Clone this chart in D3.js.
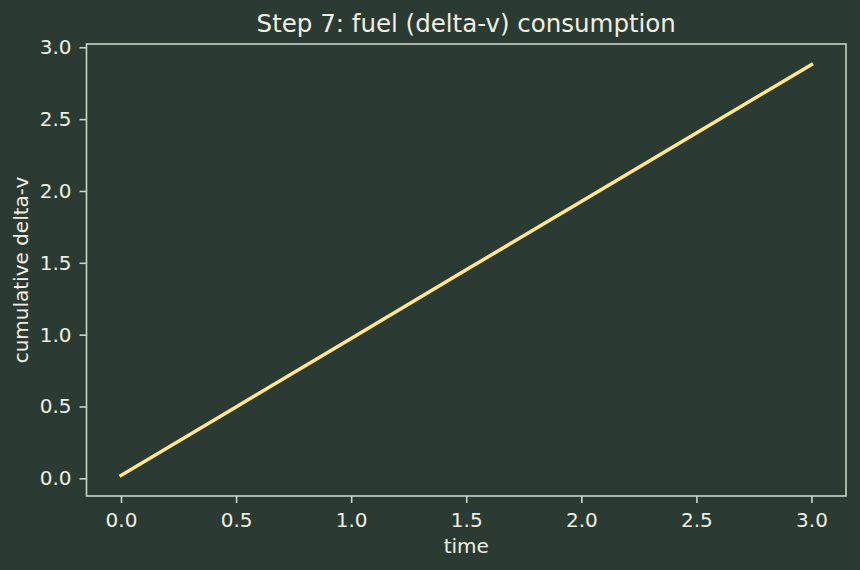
<!DOCTYPE html>
<html>
<head>
<meta charset="utf-8">
<script src="https://cdn.jsdelivr.net/npm/d3@7"></script>
<style>
  body { margin: 0; background: #2b3b34; }
  text { font-family: "DejaVu Sans", sans-serif; fill: #f0eee0; }
</style>
</head>
<body>
<div id="chart"></div>
<script>
// step 7 data: cumulative delta-v over time
var times = [0.0, 0.5, 1.0, 1.5, 2.0, 2.5, 3.0];
var deltaV = [0.02, 0.497, 0.974, 1.451, 1.927, 2.404, 2.88];
var xTicks = [0.0, 0.5, 1.0, 1.5, 2.0, 2.5, 3.0];
var yTicks = [0.0, 0.5, 1.0, 1.5, 2.0, 2.5, 3.0];

var w = 860, h = 570;
var margins = {top: 44, bottom: 74, left: 86.5, right: 14};
var bg = "#2b3b34", fg = "#f0eee0", spine = "#c8d6c8", lineCol = "#ffe58f";

var data = times.map(function(t, i) { return {t: t, v: deltaV[i]}; });

// matplotlib-like 5% padding
var xPad = (d3.max(times) - d3.min(times)) * 0.05;
var yPad = (d3.max(deltaV) - d3.min(deltaV)) * 0.05;

var xScale = d3.scaleLinear()
  .domain([d3.min(times) - xPad, d3.max(times) + xPad])
  .range([margins.left, w - margins.right]);
var yScale = d3.scaleLinear()
  .domain([d3.min(deltaV) - yPad, d3.max(deltaV) + yPad])
  .range([h - margins.bottom, margins.top]);

var svg = d3.select("#chart").append("svg")
  .attr("width", w)
  .attr("height", h);

svg.append("rect")
  .attr("width", w).attr("height", h)
  .attr("fill", bg);

var xAxis = d3.axisBottom(xScale)
  .tickValues(xTicks)
  .tickFormat(d3.format(".1f"))
  .tickSize(7).tickPadding(10);
var yAxis = d3.axisLeft(yScale)
  .tickValues(yTicks)
  .tickFormat(d3.format(".1f"))
  .tickSize(7).tickPadding(8);

var gx = svg.append("g")
  .attr("transform", "translate(0," + (h - margins.bottom) + ")")
  .call(xAxis);
var gy = svg.append("g")
  .attr("transform", "translate(" + margins.left + ",0)")
  .call(yAxis);

[gx, gy].forEach(function(g) {
  g.select(".domain").remove();
  g.selectAll(".tick line").attr("stroke", spine).attr("stroke-width", 1.6);
  g.selectAll(".tick text")
    .attr("fill", fg)
    .style("font-size", "20px")
    .style("font-family", "DejaVu Sans");
});

// line
var line = d3.line()
  .x(function(d) { return xScale(d.t); })
  .y(function(d) { return yScale(d.v); });

svg.append("path")
  .datum(data)
  .attr("d", line)
  .attr("fill", "none")
  .attr("stroke", lineCol)
  .attr("stroke-width", 3.5)
  .attr("stroke-linecap", "square");

// axes box
svg.append("rect")
  .attr("x", margins.left)
  .attr("y", margins.top)
  .attr("width", w - margins.left - margins.right)
  .attr("height", h - margins.top - margins.bottom)
  .attr("fill", "none")
  .attr("stroke", spine)
  .attr("stroke-width", 1.6);

// labels
svg.append("text")
  .text("Step 7: fuel (delta-v) consumption")
  .attr("text-anchor", "middle")
  .attr("x", (margins.left + w - margins.right) / 2)
  .attr("y", 32)
  .style("font-size", "24.5px");

svg.append("text")
  .text("time")
  .attr("text-anchor", "middle")
  .attr("x", (margins.left + w - margins.right) / 2)
  .attr("y", 553)
  .style("font-size", "20px");

svg.append("text")
  .text("cumulative delta-v")
  .attr("text-anchor", "middle")
  .attr("transform", "translate(28," + ((margins.top + h - margins.bottom) / 2) + ") rotate(-90)")
  .style("font-size", "20px");
</script>
</body>
</html>
